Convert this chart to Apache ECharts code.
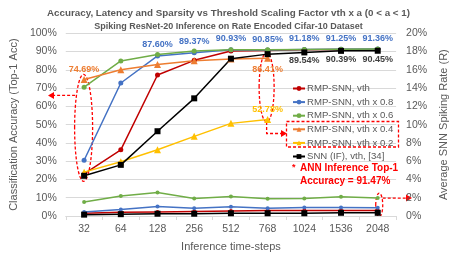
<!DOCTYPE html>
<html><head><meta charset="utf-8">
<script src="https://cdn.jsdelivr.net/npm/echarts@6/dist/echarts.min.js"></script>
<style>html,body{margin:0;padding:0;background:#fff}#c{width:457px;height:257px}</style>
</head><body><div id="c"></div>
<script>
const categories = ['32','64','128','256','512','768','1024','1536','2048'];
// Accuracy (%) - left axis
const accVth   = [23.0, 36.2, 77.2, 85.2, 90.3, 90.6, 91.0, 91.1, 91.2];
const accVth08 = [30.5, 72.8, 87.60, 89.37, 90.93, 90.85, 91.18, 91.25, 91.36];
const accVth06 = [70.5, 84.9, 88.4, 90.3, 91.0, 91.0, 91.2, 91.3, 91.4];
const accVth04 = [74.69, 80.0, 82.9, 85.0, 86.0, 86.41, null, null, null];
const accVth02 = [24.0, 29.7, 36.3, 43.6, 50.7, 52.78, null, null, null];
const accIF    = [22.0, 28.0, 46.4, 64.4, 86.1, 88.6, 89.54, 90.39, 90.45];
// Spiking rate (%) - right axis
const rateVth   = [0.3, 0.4, 0.45, 0.5, 0.55, 0.6, 0.6, 0.6, 0.6];
const rateVth08 = [0.43, 0.71, 1.03, 0.85, 1.0, 0.85, 0.93, 0.93, 0.9];
const rateVth06 = [1.54, 2.2, 2.56, 1.92, 2.13, 1.89, 1.92, 2.1, 1.98];
const rateIF    = [0.15, 0.2, 0.25, 0.25, 0.3, 0.3, 0.3, 0.35, 0.35];
// labelled points (indices)
const lblVth08 = [2,3,4,5,6,7,8];
const lblIF = [6,7,8];
const lblVth04Top = [0];
const lblVth04Bottom = [5];
const lblVth02 = [5];
const legendNames = ['RMP-SNN, vth','RMP-SNN, vth x 0.8','RMP-SNN, vth x 0.6','RMP-SNN, vth x 0.4','RMP-SNN, vth x 0.2','SNN (IF), vth, [34]'];

const FONT = 'Liberation Sans';
const GREY = '#595959';
const C = {red:'#C00000', blue:'#4472C4', green:'#70AD47', orange:'#ED7D31', yellow:'#FFC000', black:'#000000'};

function lbl(color, pos, dist){
  return {show:true, position:pos, distance:dist, color:color, fontSize:9, fontWeight:'bold', fontFamily:FONT, formatter:(p)=>p.value.toFixed(2)+'%'};
}
function mergeLabels(arr, specs){
  return arr.map((v,i)=>{
    for(const s of specs){ if(s.idx.includes(i)) return {value:v, label:lbl(s.color, s.pos, s.dist)}; }
    return v;
  });
}
function line(name, data, color, symbol, size, yIdx){
  return {name, type:'line', data, yAxisIndex:yIdx, symbol, symbolSize:size, showSymbol:true,
    lineStyle:{color, width:1.5}, itemStyle:{color}, emphasis:{disabled:true}, animation:false, connectNulls:false};
}

const chart = echarts.init(document.getElementById('c'), null, {renderer:'canvas'});
const option = {
  animation:false,
  title:[
    {text:'Accuracy, Latency and Sparsity vs Threshold Scaling Factor vth x a (0 < a < 1)', left:'center', top:3,
     textStyle:{fontFamily:FONT, fontSize:9.8, fontWeight:'bold', color:GREY}},
    {text:'Spiking ResNet-20 Inference on Rate Encoded Cifar-10 Dataset', left:'center', top:17.5,
     textStyle:{fontFamily:FONT, fontSize:9, fontWeight:'bold', color:GREY}}
  ],
  grid:{left:53, right:52, top:33.3, bottom:36.3},
  legend:{data:legendNames, orient:'vertical', left:287, top:78, itemGap:2.6, itemWidth:12, itemHeight:6,
    textStyle:{fontFamily:FONT, fontSize:9.6, lineHeight:11, color:GREY, padding:[0,0,0,-3]}, selectedMode:false},
  xAxis:{type:'category', data:categories, boundaryGap:true,
    name:'Inference time-steps', nameLocation:'middle', nameGap:25,
    nameTextStyle:{fontFamily:FONT, fontSize:11, color:GREY},
    axisLine:{lineStyle:{color:'#D9D9D9'}}, axisTick:{show:true, length:4, lineStyle:{color:'#D9D9D9'}},
    axisLabel:{fontFamily:FONT, fontSize:10.5, color:GREY, margin:8}},
  yAxis:[
    {type:'value', min:0, max:100, interval:10, position:'left',
     name:'Classification Accuracy (Top-1 Acc)', nameLocation:'middle', nameGap:37, nameRotate:90,
     nameTextStyle:{fontFamily:FONT, fontSize:11, color:GREY},
     axisLabel:{formatter:'{value}%', fontFamily:FONT, fontSize:10.5, color:GREY, margin:9},
     splitLine:{lineStyle:{color:'#D9D9D9', width:1}}, axisLine:{show:false}, axisTick:{show:false}},
    {type:'value', min:0, max:20, interval:2, position:'right',
     name:'Average SNN Spiking Rate (R)', nameLocation:'middle', nameGap:36, nameRotate:90,
     nameTextStyle:{fontFamily:FONT, fontSize:11, color:GREY},
     axisLabel:{formatter:'{value}%', fontFamily:FONT, fontSize:10.5, color:GREY, margin:10},
     splitLine:{show:false}, axisLine:{show:false}, axisTick:{show:false}}
  ],
  series:[
    line('R vth', rateVth, C.red, 'circle', 4, 1),
    line('R vth x 0.8', rateVth08, C.blue, 'circle', 4, 1),
    line('R vth x 0.6', rateVth06, C.green, 'circle', 4, 1),
    line('R IF', rateIF, C.black, 'rect', 6, 1),
    line('RMP-SNN, vth', accVth, C.red, 'circle', 5, 0),
    line('RMP-SNN, vth x 0.8', mergeLabels(accVth08, [{idx:lblVth08,pos:'top',dist:4,color:C.blue}]), C.blue, 'circle', 5, 0),
    line('RMP-SNN, vth x 0.6', accVth06, C.green, 'circle', 5, 0),
    line('RMP-SNN, vth x 0.4', mergeLabels(accVth04, [{idx:lblVth04Top,pos:'top',dist:2,color:C.orange},{idx:lblVth04Bottom,pos:'bottom',dist:3,color:C.orange}]), C.orange, 'triangle', 7, 0),
    line('RMP-SNN, vth x 0.2', mergeLabels(accVth02, [{idx:lblVth02,pos:'top',dist:2,color:C.yellow}]), C.yellow, 'triangle', 7, 0),
    line('SNN (IF), vth, [34]', mergeLabels(accIF, [{idx:lblIF,pos:'bottom',dist:1,color:'#404040'}]), C.black, 'rect', 6, 0)
  ]
};
chart.setOption(option);

// annotations placed relative to data coordinates
const px = (c, v) => chart.convertToPixel({xAxisIndex:0, yAxisIndex:0}, [c, v]);
const p32 = px('32', 50), p768 = px('768', 50);
const yAt = v => px('32', v)[1];
const dash = {stroke:'#FF0000', lineWidth:1.3, lineDash:[3,2], fill:null};
const xr = px('2048',0)[0];
function arrowHead(x, y, dir){ // dir: -1 left, +1 right
  return {type:'polygon', shape:{points:[[x,y],[x-dir*6,y-3.5],[x-dir*6,y+3.5]]}, style:{fill:'#FF0000'}, silent:true};
}
const e1top = yAt(77.5), e1bot = yAt(19);
const e2top = yAt(89.5), e2bot = yAt(51.5);
const boxY1 = 121.5, boxY2 = 147;
const graphics = [
  {type:'ellipse', shape:{cx:p32[0]-0.5, cy:(e1top+e1bot)/2, rx:9, ry:(e1bot-e1top)/2}, style:dash, silent:true},
  {type:'line', shape:{x1:p32[0]-9, y1:yAt(66), x2:54, y2:yAt(66)}, style:{stroke:'#FF0000', lineWidth:1.3, lineDash:[3,2]}, silent:true},
  arrowHead(48, yAt(66), -1),
  {type:'ellipse', shape:{cx:p768[0]-1, cy:(e2top+e2bot)/2, rx:7.5, ry:(e2bot-e2top)/2}, style:dash, silent:true},
  {type:'polyline', shape:{points:[[p768[0]-1, e2bot],[p768[0]-1, 133.5],[281, 133.5]]}, style:{stroke:'#FF0000', lineWidth:1.3, lineDash:[3,2], fill:null}, silent:true},
  arrowHead(287, 133.5, 1),
  {type:'rect', shape:{x:286.5, y:boxY1, width:112, height:boxY2-boxY1}, style:dash, silent:true},
  {type:'ellipse', shape:{cx:xr+1.5, cy:(yAt(12.5)+yAt(-0.5))/2, rx:3.5, ry:(yAt(-0.5)-yAt(12.5))/2}, style:dash, silent:true},
  {type:'line', shape:{x1:xr+5, y1:yAt(9.8), x2:406, y2:yAt(9.8)}, style:{stroke:'#FF0000', lineWidth:1.3, lineDash:[3,2]}, silent:true},
  arrowHead(412, yAt(9.8), 1),
  {type:'text', left:292, top:163, style:{text:'*', fill:'#FF0000', font:'bold 9px '+FONT}, silent:true},
  {type:'text', left:300, top:163.5, style:{text:'ANN Inference Top-1', fill:'#FF0000', font:'bold 10px '+FONT}, silent:true},
  {type:'text', left:300, top:176.5, style:{text:'Accuracy = 91.47%', fill:'#FF0000', font:'bold 10px '+FONT}, silent:true}
];
chart.setOption({graphic:graphics});
</script></body></html>
